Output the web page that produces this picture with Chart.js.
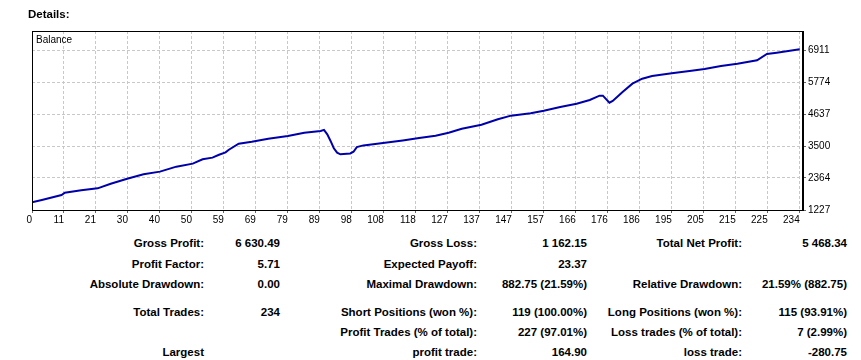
<!DOCTYPE html>
<html>
<head>
<meta charset="utf-8">
<script src="https://cdn.jsdelivr.net/npm/chart.js@4.4.1/dist/chart.umd.min.js"></script>
<style>
  html, body { margin: 0; padding: 0; background: #fff; }
  #wrap { position: relative; width: 861px; height: 360px; overflow: hidden; font-family: "Liberation Sans", Arial, sans-serif; color: #000; }
  #chartCanvas { position: absolute; left: 0; top: 0; }
  .t { position: absolute; white-space: nowrap; font-weight: bold; font-size: 11.5px; line-height: 14px; text-align: right; }
  #details { position: absolute; left: 28px; top: 7px; font-weight: bold; font-size: 11.5px; line-height: 14px; }
  #balLabel { position: absolute; left: 36px; top: 34px; font-size: 10px; line-height: 12px; }
</style>
</head>
<body>
<div id="wrap">
  <canvas id="chartCanvas" width="861" height="230"></canvas>
  <div id="details">Details:</div>
  <div id="balLabel">Balance</div>
  <div id="table"></div>
</div>
<script>
// ---- chart data ----
const trades  = [0, 3, 9, 10, 15, 20, 24, 29, 34, 39, 42, 44, 49, 52, 55, 57, 59, 60, 63, 67, 72, 78, 83, 88, 89, 90, 91, 92, 93, 94, 97, 98, 99, 101, 107, 113, 118, 123, 127, 131, 137, 142, 146, 152, 156, 161, 166, 170, 173, 174, 176, 177, 179, 180, 183, 186, 189, 195, 201, 205, 210, 215, 221, 224, 227, 234];
const balance = [1500, 1582, 1760, 1842, 1926, 1997, 2161, 2339, 2495, 2590, 2696, 2767, 2874, 3030, 3087, 3190, 3275, 3369, 3582, 3653, 3760, 3856, 3973, 4033, 4075, 3916, 3680, 3420, 3262, 3205, 3235, 3298, 3463, 3522, 3604, 3700, 3782, 3867, 3973, 4115, 4257, 4449, 4579, 4662, 4755, 4886, 5003, 5135, 5288, 5288, 5040, 5100, 5312, 5419, 5714, 5891, 5987, 6083, 6176, 6236, 6343, 6424, 6545, 6769, 6815, 6940];
const xTickLabels = ["0","11","21","30","40","50","59","69","79","89","98","108","118","127","137","147","157","166","176","186","195","205","215","225","234"];
const yTickValues = [1227, 2364, 3500, 4637, 5774, 6911];
const totalTrades = 234;

// ---- summary table text ----
const tableRows = [
  ["Gross Profit:", "6 630.49", "Gross Loss:", "1 162.15", "Total Net Profit:", "5 468.34"],
  ["Profit Factor:", "5.71", "Expected Payoff:", "23.37", "", ""],
  ["Absolute Drawdown:", "0.00", "Maximal Drawdown:", "882.75 (21.59%)", "Relative Drawdown:", "21.59% (882.75)"],
  ["Total Trades:", "234", "Short Positions (won %):", "119 (100.00%)", "Long Positions (won %):", "115 (93.91%)"],
  ["", "", "Profit Trades (% of total):", "227 (97.01%)", "Loss trades (% of total):", "7 (2.99%)"],
  ["Largest", "", "profit trade:", "164.90", "loss trade:", "-280.75"]
];
const rowCenters = [243, 263.5, 284, 312, 332, 352];
const colRightEdges = [204, 280, 477, 587, 742, 847];

const tbl = document.getElementById('table');
tableRows.forEach((row, r) => {
  row.forEach((txt, c) => {
    if (!txt) return;
    const d = document.createElement('div');
    d.className = 't';
    d.textContent = txt;
    d.style.right = (861 - colRightEdges[c]) + 'px';
    d.style.top = (rowCenters[r] - 7) + 'px';
    tbl.appendChild(d);
  });
});

const frame = {
  id: 'frame',
  afterDraw(chart) {
    const a = chart.chartArea, ctx = chart.ctx;
    ctx.save();
    ctx.strokeStyle = '#000';
    ctx.lineWidth = 1;
    ctx.strokeRect(a.left + 0.5, a.top + 0.5, a.right - a.left - 1, a.bottom - a.top);
    ctx.restore();
  }
};

const tickFont = { family: "'Liberation Sans', Arial, sans-serif", size: 10 };

new Chart(document.getElementById('chartCanvas'), {
  type: 'line',
  data: {
    datasets: [{
      data: trades.map((t, i) => ({ x: t, y: balance[i] })),
      borderColor: '#0000aa',
      borderWidth: 2,
      pointRadius: 0,
      tension: 0,
      fill: false
    }]
  },
  options: {
    responsive: false,
    animation: false,
    devicePixelRatio: 1,
    layout: { padding: { left: 32, top: 31, right: 0, bottom: 0 } },
    plugins: { legend: { display: false }, tooltip: { enabled: false }, title: { display: false } },
    scales: {
      x: {
        type: 'linear',
        min: 0,
        max: 235,
        afterBuildTicks: (s) => { s.ticks = xTickLabels.map((l, i) => ({ value: i * totalTrades / (xTickLabels.length - 1) })); },
        afterFit: (s) => { s.height = 20; },
        ticks: {
          autoSkip: false, maxRotation: 0, minRotation: 0,
          align: 'end', padding: 1, color: '#000', font: tickFont,
          callback: (v, i) => xTickLabels[i]
        },
        grid: { color: '#c8c8c8', tickLength: 3, tickColor: '#666', drawTicks: true },
        border: { display: true, color: '#000', width: 1, dash: [3, 2] }
      },
      y: {
        type: 'linear',
        position: 'right',
        min: 1227,
        max: 7586,
        afterBuildTicks: (s) => { s.ticks = yTickValues.map(v => ({ value: v })); },
        afterFit: (s) => { s.width = 58; },
        ticks: { padding: 2, color: '#000', font: tickFont, callback: (v) => String(v) },
        grid: { color: '#c8c8c8', tickLength: 3, tickColor: '#666', drawTicks: true },
        border: { display: true, color: '#000', width: 1, dash: [3, 2] }
      }
    }
  },
  plugins: [frame]
});
</script>
</body>
</html>
